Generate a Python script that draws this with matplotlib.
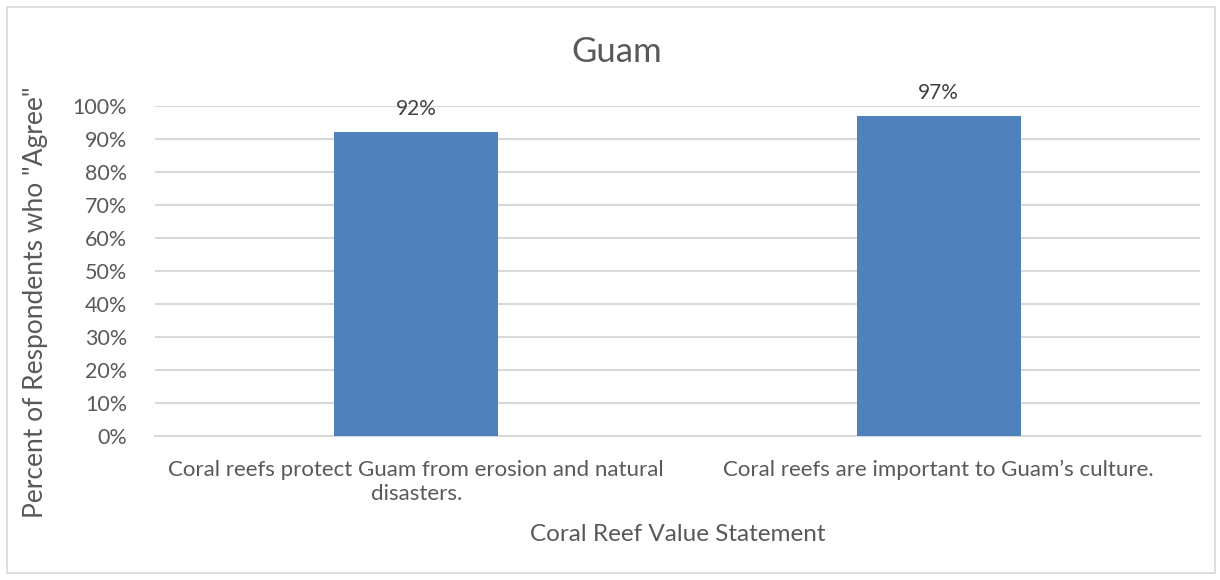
import matplotlib.pyplot as plt
from matplotlib.patches import Rectangle

plt.rcParams['font.family'] = ['Lato', 'DejaVu Sans']

categories = ["Coral reefs protect Guam from erosion and natural\ndisasters.",
              "Coral reefs are important to Guam\u2019s culture."]
values = [0.92, 0.97]
value_labels = ["92%", "97%"]
yticks = [0, 0.1, 0.2, 0.3, 0.4, 0.5, 0.6, 0.7, 0.8, 0.9, 1.0]
ytick_labels = ["0%", "10%", "20%", "30%", "40%", "50%", "60%", "70%", "80%", "90%", "100%"]

text_col = "#595959"
bar_col = "#4F81BD"
grid_col = "#D9D9D9"

fig = plt.figure(figsize=(12.2, 5.8), dpi=100)
ax = fig.add_axes([155 / 1220, 1 - 436 / 580, 1045 / 1220, 330 / 580])

# light frame around the whole chart
fig.patches.append(Rectangle((7 / 1220, 7 / 580), 1208 / 1220, 566 / 580,
                             transform=fig.transFigure, fill=False,
                             edgecolor="#D9D9D9", linewidth=1.2))

x = range(len(categories))
ax.bar(x, values, width=0.314, color=bar_col, zorder=3)
for xi, v, lab in zip(x, values, value_labels):
    ax.text(xi, v + 0.04, lab, ha="center", va="bottom", fontsize=15, color="#404040")

ax.set_xlim(-0.5, 1.5)
ax.set_ylim(0, 1.0)
ax.set_yticks(yticks)
ax.set_yticklabels(ytick_labels, fontsize=15.5, color=text_col)
ax.set_xticks(list(x))
ax.set_xticklabels(categories, fontsize=16, color=text_col, linespacing=1.3)
ax.tick_params(axis="both", length=0)
ax.tick_params(axis="y", pad=20)
ax.tick_params(axis="x", pad=17)
ax.yaxis.grid(True, color=grid_col, linewidth=1.5, zorder=0)
ax.set_axisbelow(True)
for s in ["top", "right", "left"]:
    ax.spines[s].set_visible(False)
ax.spines["bottom"].set_color(grid_col)
ax.spines["bottom"].set_linewidth(1.5)

fig.text(617 / 1220, 1 - 52 / 580, "Guam", fontsize=25, color=text_col,
         ha="center", va="center")
ax.set_xlabel("Coral Reef Value Statement", fontsize=17.5, color=text_col, labelpad=14)
ax.set_ylabel('Percent of Respondents who "Agree"', fontsize=19, color=text_col)
ax.yaxis.set_label_coords(-0.102, 0.405)

fig.savefig("out.png", dpi=100)
